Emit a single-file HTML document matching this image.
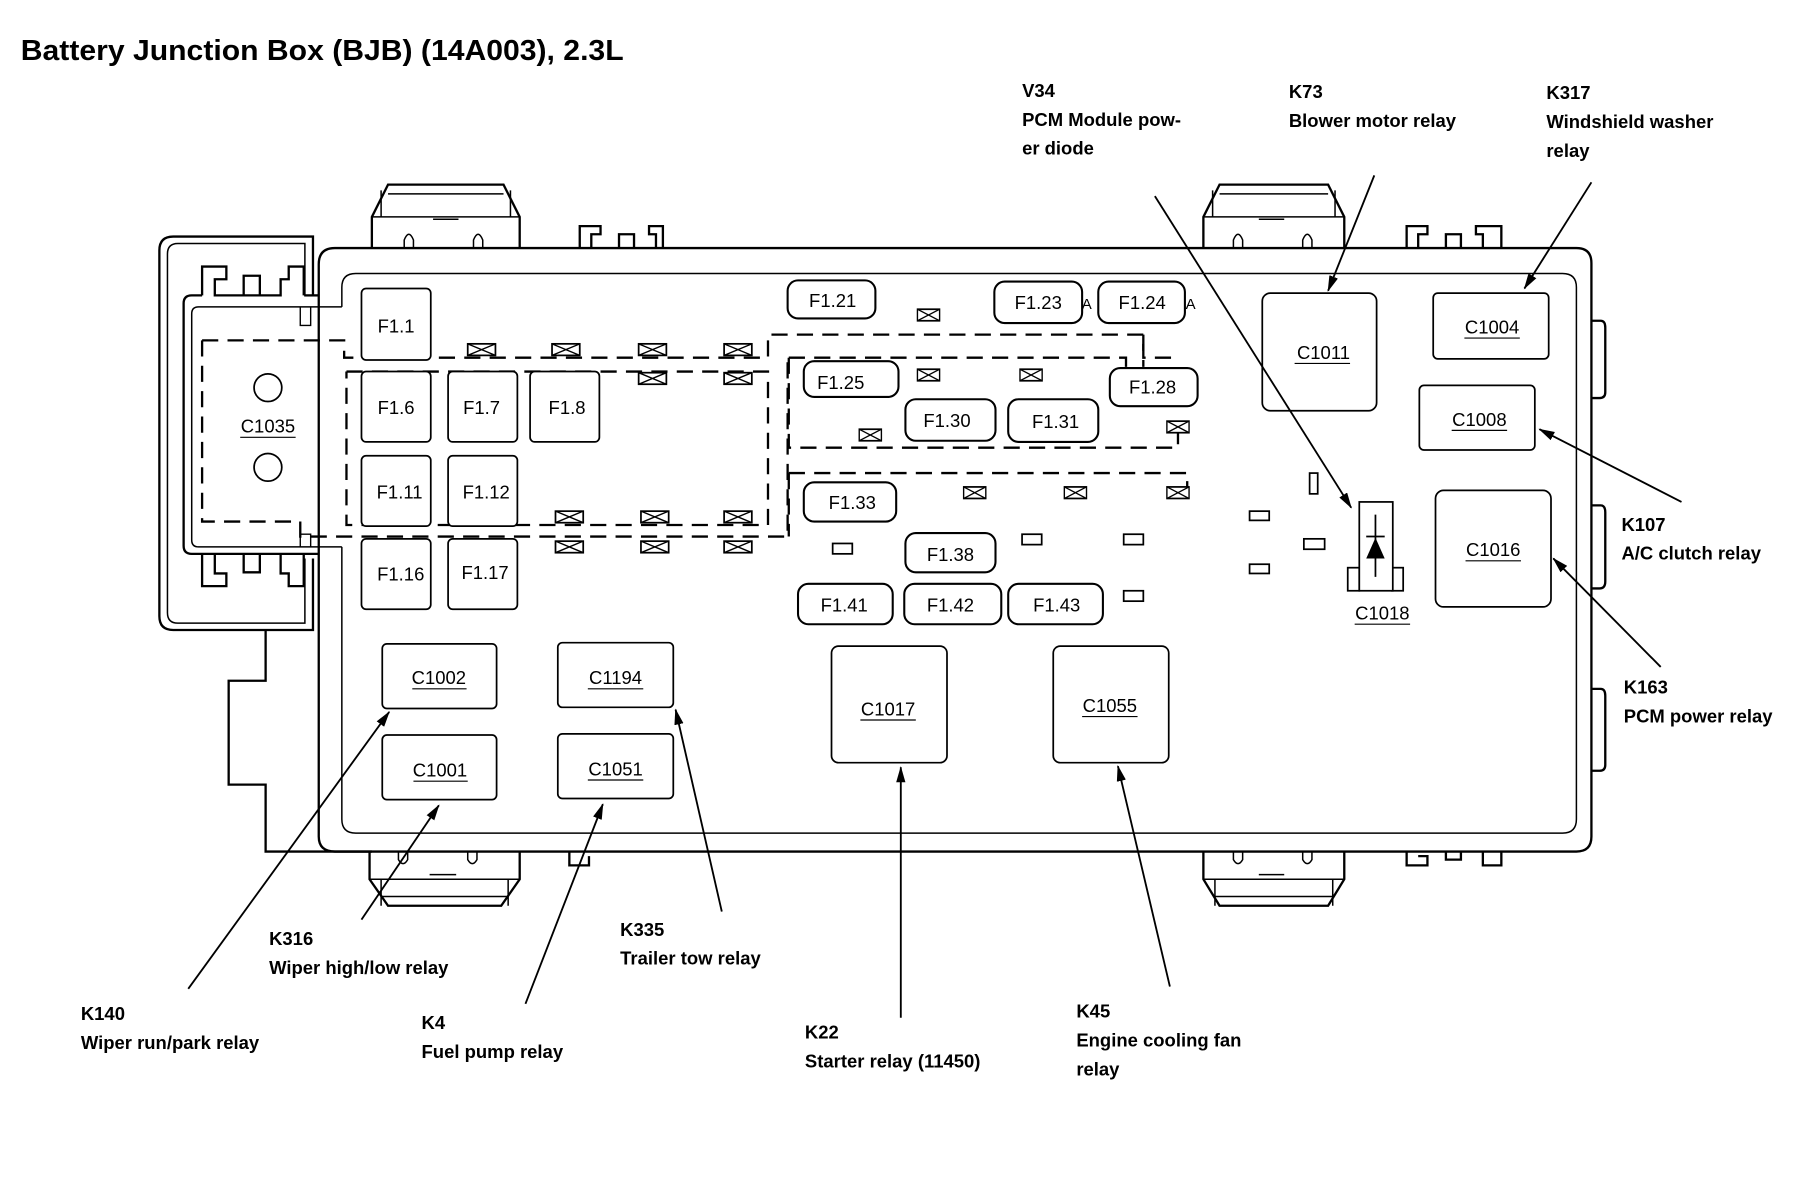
<!DOCTYPE html>
<html><head><meta charset="utf-8"><style>
html,body{margin:0;padding:0;background:#fff;}
svg{display:block;}
text{font-family:"Liberation Sans",sans-serif;fill:#000;}
.l{font-weight:bold;font-size:16px;}
.f{font-size:16px;}
</style></head><body>
<svg width="1812" height="1200" viewBox="0 0 1569 1040" preserveAspectRatio="none" xmlns="http://www.w3.org/2000/svg">
<defs>
<marker id="a" markerWidth="14" markerHeight="8" refX="13" refY="4" orient="auto" markerUnits="userSpaceOnUse">
<path d="M0,0 L14,4 L0,8 Z" fill="#000"/></marker>
<g id="x"><rect x="0" y="0" width="24" height="10" fill="#fff" stroke="#000" stroke-width="1.5"/><path d="M0,0 L24,10 M0,10 L24,0" stroke="#000" stroke-width="1.2"/></g>
</defs>
<text x="18" y="52" textLength="522" lengthAdjust="spacingAndGlyphs" style="font-weight:bold;font-size:25px">Battery Junction Box (BJB) (14A003), 2.3L</text>

<g fill="none" stroke="#000" stroke-width="2">
<!-- left housing -->
<path d="M271,257 L271,205 L150,205 Q138,205 138,217 L138,534 Q138,546 150,546 L271,546 L271,484"/>
<path d="M264,257 L264,211 L154,211 Q145,211 145,220 L145,531 Q145,540 154,540 L264,540 L264,484" stroke-width="1.3"/>
<path d="M230,546 L230,590 L198,590 L198,680 L230,680 L230,738 L322,738"/>
<!-- tray -->
<path d="M175,256 L166,256 Q159,256 159,263 L159,473 Q159,480 166,480 L276,480"/>
<path d="M264,256 L276,256"/>
<!-- top clips -->
<path d="M175,256 L175,231 L196,231 L196,242 L186,242 L186,256 L243,256 L243,242 L250,242 L250,231 L263,231 L263,256"/>
<path d="M211,256 L211,239 L225,239 L225,256"/>
<!-- bottom clips -->
<path d="M175,480 L175,508 L196,508 L196,497 L186,497 L186,480 M243,480 L243,497 L250,497 L250,508 L263,508 L263,480"/>
<path d="M211,480 L211,496 L225,496 L225,480"/>
<!-- main box -->
<path d="M290,215 L1365,215 Q1378,215 1378,228 L1378,725 Q1378,738 1365,738 L290,738 Q276,738 276,725 L276,229 Q276,215 290,215"/>
<path d="M296,266 L296,249 Q296,237 308,237 L1353,237 Q1365,237 1365,249 L1365,710 Q1365,722 1353,722 L308,722 Q296,722 296,710 L296,474" stroke-width="1.3"/>
<path d="M296,266 L172,266 Q166,266 166,272 L166,468 Q166,474 172,474 L296,474" stroke-width="1.3"/>
<path d="M260,266 L260,282 L269,282 L269,266 M260,474 L260,463 L269,463 L269,474" stroke-width="1.2"/>
<!-- top connectors -->
<path d="M322,215 L322,188 L336,160 L436,160 L450,188 L450,215"/>
<path d="M322,188 L450,188 M330,188 L330,165 M442,188 L442,165 M336,168 L436,168 M375,190 L397,190" stroke-width="1.3"/>
<path d="M350,215 L350,208 Q354,198 358,208 L358,215 M410,215 L410,208 Q414,198 418,208 L418,215" stroke-width="1.3"/>
<path d="M1042,215 L1042,188 L1056,160 L1150,160 L1164,188 L1164,215"/>
<path d="M1042,188 L1164,188 M1050,188 L1050,165 M1156,188 L1156,165 M1056,168 L1150,168 M1090,190 L1112,190" stroke-width="1.3"/>
<path d="M1068,215 L1068,208 Q1072,198 1076,208 L1076,215 M1128,215 L1128,208 Q1132,198 1136,208 L1136,215" stroke-width="1.3"/>
<!-- bottom connectors -->
<path d="M320,738 L320,762 L336,785 L434,785 L450,762 L450,738"/>
<path d="M320,762 L450,762 M330,762 L330,785 M440,762 L440,785 M330,777 L440,777 M372,758 L395,758" stroke-width="1.3"/>
<path d="M345,738 L345,745 Q349,752 353,745 L353,738 M405,738 L405,745 Q409,752 413,745 L413,738" stroke-width="1.3"/>
<path d="M1042,738 L1042,762 L1056,785 L1150,785 L1164,762 L1164,738"/>
<path d="M1042,762 L1164,762 M1052,762 L1052,785 M1154,762 L1154,785 M1052,777 L1154,777 M1090,758 L1112,758" stroke-width="1.3"/>
<path d="M1068,738 L1068,745 Q1072,752 1076,745 L1076,738 M1128,738 L1128,745 Q1132,752 1136,745 L1136,738" stroke-width="1.3"/>
<!-- clips -->
<path d="M502,215 L502,196 L520,196 L520,203 L512,203 L512,215 M536,215 L536,203 L549,203 L549,215 M568,215 L568,203 L562,203 L562,196 L574,196 L574,215"/>
<path d="M1218,215 L1218,196 L1236,196 L1236,203 L1228,203 L1228,215 M1252,215 L1252,203 L1265,203 L1265,215 M1284,215 L1284,203 L1278,203 L1278,196 L1300,196 L1300,215"/>
<path d="M493,738 L493,750 L510,750 L510,742 M1218,738 L1218,750 L1236,750 L1236,742 L1228,742 M1252,738 L1252,745 L1265,745 L1265,738 M1284,738 L1284,750 L1300,750 L1300,738"/>
<!-- right tabs -->
<path d="M1378,278 L1386,278 Q1390,278 1390,284 L1390,340 Q1390,345 1385,345 L1378,345"/>
<path d="M1378,438 L1386,438 Q1390,438 1390,444 L1390,504 Q1390,510 1385,510 L1378,510"/>
<path d="M1378,597 L1386,597 Q1390,597 1390,603 L1390,663 Q1390,668 1385,668 L1378,668"/>
</g>

<!-- dashed -->
<g fill="none" stroke="#000" stroke-width="2" stroke-dasharray="14,8">
<path d="M175,295 L298,295 L298,310 L665,310 L665,290 L990,290 L990,310 L1018,310"/>
<path d="M175,295 L175,452 L260,452 L260,465 L682,465 L682,310"/>
<path d="M300,322 L665,322 L665,455 L300,455 L300,322"/>
<path d="M683,310 L683,388 L1020,388 L1020,368"/>
<path d="M683,310 L975,310 L975,318"/>
<path d="M990,290 L990,318"/>
<path d="M683,410 L683,465 M683,410 L1028,410 L1028,432"/>
</g>

<!-- X boxes -->
<use href="#x" x="405" y="298"/><use href="#x" x="478" y="298"/><use href="#x" x="553" y="298"/><use href="#x" x="627" y="298"/>
<use href="#x" x="553" y="323"/><use href="#x" x="627" y="323"/>
<use href="#x" x="481" y="443"/><use href="#x" x="555" y="443"/><use href="#x" x="627" y="443"/>
<use href="#x" x="481" y="469"/><use href="#x" x="555" y="469"/><use href="#x" x="627" y="469"/>
<g transform="scale(0.8,1)">
<use href="#x" x="993" y="268"/><use href="#x" x="993" y="320"/><use href="#x" x="1104" y="320"/>
<use href="#x" x="930" y="372"/><use href="#x" x="1263" y="365"/>
<use href="#x" x="1043" y="422"/><use href="#x" x="1152" y="422"/><use href="#x" x="1263" y="422"/>
</g>

<!-- C1035 -->
<g fill="none" stroke="#000" stroke-width="1.5">
<circle cx="232" cy="336" r="12"/><circle cx="232" cy="405" r="12"/>
</g>

<!-- fuses -->
<g fill="#fff" stroke="#000" stroke-width="1.5">
<rect x="313" y="250" width="60" height="62" rx="4"/>
<rect x="313" y="322" width="60" height="61" rx="4"/><rect x="388" y="322" width="60" height="61" rx="4"/><rect x="459" y="322" width="60" height="61" rx="4"/>
<rect x="313" y="395" width="60" height="61" rx="4"/><rect x="388" y="395" width="60" height="61" rx="4"/>
<rect x="313" y="467" width="60" height="61" rx="4"/><rect x="388" y="467" width="60" height="61" rx="4"/>
</g>
<g fill="#fff" stroke="#000" stroke-width="1.8">
<rect x="682" y="243" width="76" height="33" rx="9"/>
<rect x="861" y="244" width="76" height="36" rx="9"/>
<rect x="951" y="244" width="75" height="36" rx="9"/>
<rect x="696" y="313" width="82" height="31" rx="9"/>
<rect x="961" y="319" width="76" height="33" rx="9"/>
<rect x="784" y="346" width="78" height="36" rx="9"/>
<rect x="873" y="346" width="78" height="37" rx="9"/>
<rect x="696" y="418" width="80" height="34" rx="9"/>
<rect x="784" y="462" width="78" height="34" rx="9"/>
<rect x="691" y="506" width="82" height="35" rx="9"/>
<rect x="783" y="506" width="84" height="35" rx="9"/>
<rect x="873" y="506" width="82" height="35" rx="9"/>
</g>
<g fill="#fff" stroke="#000" stroke-width="1.5">
<rect x="331" y="558" width="99" height="56" rx="4"/><rect x="331" y="637" width="99" height="56" rx="4"/>
<rect x="483" y="557" width="100" height="56" rx="4"/><rect x="483" y="636" width="100" height="56" rx="4"/>
<rect x="720" y="560" width="100" height="101" rx="6"/><rect x="912" y="560" width="100" height="101" rx="6"/>
<rect x="1093" y="254" width="99" height="102" rx="7"/>
<rect x="1241" y="254" width="100" height="57" rx="4"/>
<rect x="1229" y="334" width="100" height="56" rx="4"/>
<rect x="1243" y="425" width="100" height="101" rx="7"/>
<rect x="1082" y="443" width="17" height="8"/><rect x="1082" y="489" width="17" height="8"/>
<rect x="1129" y="467" width="18" height="9"/><rect x="1134" y="410" width="7" height="18"/>
<rect x="885" y="463" width="17" height="9"/><rect x="973" y="463" width="17" height="9"/><rect x="973" y="512" width="17" height="9"/>
<rect x="721" y="471" width="17" height="9"/>
<rect x="1167" y="492" width="10" height="20"/><rect x="1205" y="492" width="10" height="20"/>
<rect x="1177" y="435" width="29" height="77"/>
</g>
<path d="M1191,446 L1191,500 M1183,465 L1199,465" stroke="#000" stroke-width="1.5"/>
<path d="M1183,484 L1199,484 L1191,466 Z" fill="#000"/>

<!-- labels inside -->
<g class="f" text-anchor="middle">
<text x="343" y="288">F1.1</text>
<text x="343" y="359">F1.6</text><text x="417" y="359">F1.7</text><text x="491" y="359">F1.8</text>
<text x="346" y="432">F1.11</text><text x="421" y="432">F1.12</text>
<text x="347" y="503">F1.16</text><text x="420" y="502">F1.17</text>
<text x="721" y="266">F1.21</text><text x="899" y="268">F1.23</text><text x="989" y="268">F1.24</text>
<text x="728" y="337">F1.25</text><text x="998" y="341">F1.28</text>
<text x="820" y="370">F1.30</text><text x="914" y="371">F1.31</text>
<text x="738" y="441">F1.33</text><text x="823" y="486">F1.38</text>
<text x="731" y="530">F1.41</text><text x="823" y="530">F1.42</text><text x="915" y="530">F1.43</text>
<text x="232" y="375">C1035</text>
<text x="380" y="593">C1002</text><text x="381" y="673">C1001</text>
<text x="533" y="593">C1194</text><text x="533" y="672">C1051</text>
<text x="769" y="620">C1017</text><text x="961" y="617">C1055</text>
<text x="1146" y="311">C1011</text><text x="1292" y="289">C1004</text><text x="1281" y="369">C1008</text>
<text x="1293" y="482">C1016</text><text x="1197" y="537">C1018</text>
<text x="941" y="268" font-size="13">A</text><text x="1031" y="268" font-size="13">A</text>
</g>
<g stroke="#000" stroke-width="1">
<path d="M208,379 H256 M357,597 H404 M358,677 H405 M509,597 H557 M509,676 H557 M745,624 H793 M937,621 H985 M1121,315 H1169 M1268,293 H1316 M1257,373 H1305 M1269,486 H1317 M1173,541 H1221"/>
</g>

<!-- leaders -->
<g stroke="#000" stroke-width="1.6" fill="none" marker-end="url(#a)">
<path d="M1000,170 L1170,440"/>
<path d="M1190,152 L1150,252"/>
<path d="M1378,158 L1320,250"/>
<path d="M1456,435 L1333,372"/>
<path d="M1438,578 L1345,484"/>
<path d="M1013,855 L968,664"/>
<path d="M780,882 L780,665"/>
<path d="M625,790 L585,615"/>
<path d="M455,870 L522,697"/>
<path d="M313,797 L380,698"/>
<path d="M163,857 L337,617"/>
</g>

<g class="l">
<text x="885" y="84">V34</text><text x="885" y="109">PCM Module pow-</text><text x="885" y="134">er diode</text>
<text x="1116" y="85">K73</text><text x="1116" y="110">Blower motor relay</text>
<text x="1339" y="86">K317</text><text x="1339" y="111">Windshield washer</text><text x="1339" y="136">relay</text>
<text x="1404" y="460">K107</text><text x="1404" y="485">A/C clutch relay</text>
<text x="1406" y="601">K163</text><text x="1406" y="626">PCM power relay</text>
<text x="233" y="819">K316</text><text x="233" y="844">Wiper high/low relay</text>
<text x="537" y="811">K335</text><text x="537" y="836">Trailer tow relay</text>
<text x="70" y="884">K140</text><text x="70" y="909">Wiper run/park relay</text>
<text x="365" y="892">K4</text><text x="365" y="917">Fuel pump relay</text>
<text x="697" y="900">K22</text><text x="697" y="925">Starter relay (11450)</text>
<text x="932" y="882">K45</text><text x="932" y="907">Engine cooling fan</text><text x="932" y="932">relay</text>
</g>
</svg>
</body></html>
